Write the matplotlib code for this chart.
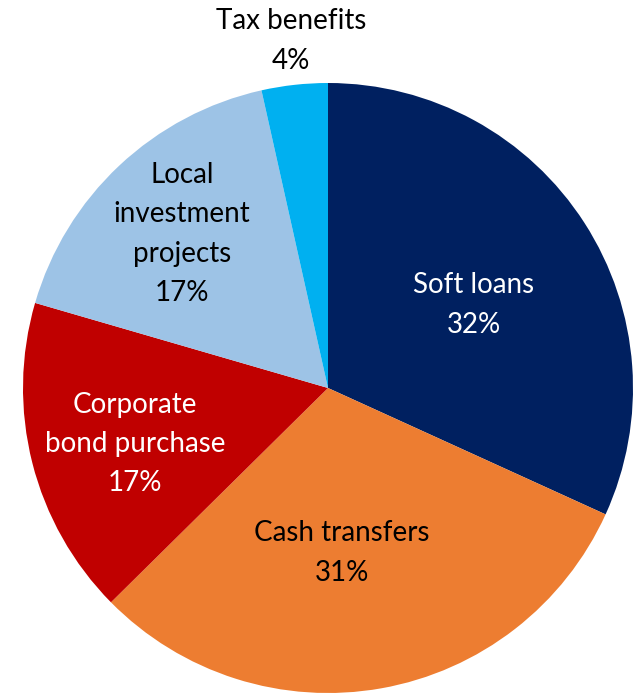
import matplotlib
matplotlib.use("Agg")
import matplotlib.pyplot as plt

categories = ["Soft loans", "Cash transfers", "Corporate\nbond purchase",
              "Local\ninvestment\nprojects", "Tax benefits"]
shares = [31.8, 30.8, 16.9, 17.0, 3.5]
pct_labels = ["32%", "31%", "17%", "17%", "4%"]
colors = ["#002060", "#ED7D31", "#C00000", "#9DC3E6", "#00B0F0"]
text_colors = ["white", "black", "white", "black", "black"]

plt.rcParams['font.family'] = ['Lato', 'DejaVu Sans']

W, H = 635, 694
fig = plt.figure(figsize=(W / 100, H / 100), dpi=100)
cx, cy, r = 328, 388, 305
ax = fig.add_axes([(cx - r) / W, (H - cy - r) / H, 2 * r / W, 2 * r / H])
ax.pie(shares, colors=colors, startangle=90, counterclock=False, radius=1,
       wedgeprops=dict(linewidth=0))
ax.set_xlim(-1, 1)
ax.set_ylim(-1, 1)
ax.axis("off")

label_px = [(474, 305), (342, 553), (135, 444), (182, 234), (291, 41)]
for cat, pct, tc, (px, py) in zip(categories, pct_labels, text_colors, label_px):
    x = (px - cx) / r
    y = (cy - py) / r
    ax.text(x, y, f"{cat}\n{pct}", ha="center", va="center", color=tc,
            fontsize=20, linespacing=1.62, clip_on=False)

fig.savefig("out.png", dpi=100)
